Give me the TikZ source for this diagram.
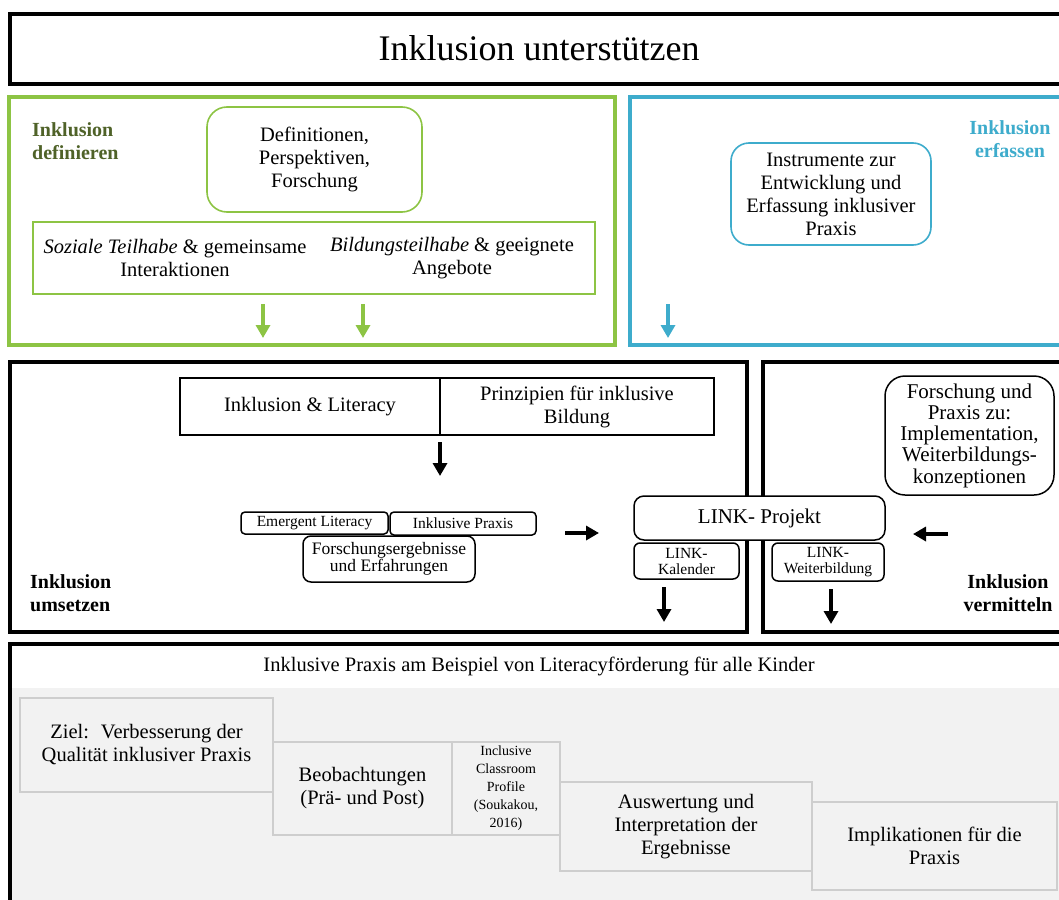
\documentclass[tikz,border=0pt]{standalone}
\usepackage{fontspec}
\setmainfont{Liberation Serif}
\usetikzlibrary{arrows.meta}
\definecolor{lgreen}{RGB}{141,196,68}
\definecolor{dgreen}{RGB}{79,98,40}
\definecolor{aqua}{RGB}{62,172,204}
\definecolor{stepgray}{RGB}{242,242,242}
\definecolor{stepline}{RGB}{206,206,206}
\begin{document}
\begin{tikzpicture}[x=1pt,y=-1pt,
  frame/.style={line width=4pt},
  body/.style={font=\fontsize{20.5}{23}\selectfont, align=center, inner sep=0pt},
  smalltext/.style={font=\fontsize{15.5}{16}\selectfont, align=center, inner sep=0pt},
  lab/.style={font=\bfseries\fontsize{20}{23}\selectfont, inner sep=0pt},
  gbox/.style={draw=lgreen, line width=1.6pt, body},
  abox/.style={draw=aqua, line width=1.6pt, body, rounded corners=18pt},
  kbox/.style={draw=black, line width=1.5pt, body},
  rbox/.style={draw=black, line width=1.5pt, fill=white, rounded corners=#1},
  stepbox/.style={draw=stepline, fill=stepgray, line width=1.4pt, body},
  barrow/.style={line width=4.5pt, -{Triangle[width=14pt,length=13pt]}},
  garrow/.style={barrow, lgreen},
  aarrow/.style={barrow, aqua}
]
\useasboundingbox (0,0) rectangle (1059,899);
\clip (0,0) rectangle (1059,899);
\fill[white] (0,0) rectangle (1059,899);

% ---------- title ----------
\draw[frame] (10,14) rectangle (1075,84);
\node[font=\fontsize{36}{40}\selectfont, inner sep=0pt] (title) at (539,48) {Inklusion unterstützen};

% ---------- Inklusion definieren ----------
\draw[frame, lgreen] (9,97) rectangle (615,345);
\node[lab, dgreen, align=left, anchor=west] (deflab) at (32,141.5) {Inklusion\\definieren};
\node[gbox, rounded corners=20pt, minimum width=215pt, minimum height=105pt] (defs) at (314.5,159.5)
  {Definitionen,\\Perspektiven,\\Forschung};
\node[gbox, minimum width=562pt, minimum height=72pt] (teil) at (314,258) {};
\node[body] (sozial) at (175,258) {\textit{Soziale Teilhabe} \& gemeinsame\\Interaktionen};
\node[body] (bildung) at (452,258) {\textit{Bildungsteilhabe} \& geeignete\\Angebote};
\coordinate (g1s) at (263,304); \coordinate (g1e) at (263,338);
\coordinate (g2s) at (363,304); \coordinate (g2e) at (363,338);
\draw[garrow] (g1s) -- (g1e);
\draw[garrow] (g2s) -- (g2e);

% ---------- Inklusion erfassen ----------
\draw[frame, aqua] (630,97) rectangle (1075,345);
\node[lab, aqua, align=center] (erflab) at (1010,139.5) {Inklusion\\erfassen};
\node[abox, minimum width=200pt, minimum height=102pt] (instr) at (831,194)
  {Instrumente zur\\Entwicklung und\\Erfassung inklusiver\\Praxis};
\coordinate (a1s) at (668,304); \coordinate (a1e) at (668,338);
\draw[aarrow] (a1s) -- (a1e);

% ---------- Inklusion umsetzen / vermitteln ----------
\draw[frame] (10,362) rectangle (747,632);
\draw[frame] (763,362) rectangle (1075,632);
\node[lab, align=left, anchor=west] (umslab) at (30,593.5) {Inklusion\\umsetzen};
\node[lab, align=center] (vermlab) at (1008,593.5) {Inklusion\\vermitteln};

\node[kbox, minimum width=260pt, minimum height=57pt] (litbox) at (310,406.5) {Inklusion \& Literacy};
\node[kbox, minimum width=274pt, minimum height=57pt] (prinz) at (577,406.5) {Prinzipien für inklusive\\Bildung};
\coordinate (l1s) at (440,442); \coordinate (l1e) at (440,476);
\draw[barrow] (l1s) -- (l1e);

\node[rbox=4pt, smalltext, minimum width=147pt, minimum height=22pt] (emerg) at (314.5,523) {Emergent Literacy};
\node[rbox=4pt, smalltext, minimum width=146pt, minimum height=23pt] (inkpr) at (463,523.5) {Inklusive Praxis};
\node[rbox=8pt, align=center, inner sep=0pt, font=\fontsize{17.5}{16.5}\selectfont,
      minimum width=172pt, minimum height=46pt] (forsch) at (389,559) {Forschungsergebnisse\\und Erfahrungen};
\coordinate (r1s) at (565,533); \coordinate (r1e) at (599,533);
\draw[barrow] (r1s) -- (r1e);

\node[rbox=10pt, body, font=\fontsize{21}{23}\selectfont, minimum width=251pt, minimum height=44pt] (link) at (759.5,518) {LINK- Projekt};
\node[rbox=6pt, smalltext, minimum width=105pt, minimum height=36pt] (kal) at (686.5,561) {LINK-\\Kalender};
\node[rbox=6pt, smalltext, minimum width=112pt, minimum height=38pt] (weit) at (828,562) {LINK-\\Weiterbildung};
\coordinate (k1s) at (664,587); \coordinate (k1e) at (664,622);
\coordinate (w1s) at (831,589); \coordinate (w1e) at (831,624);
\draw[barrow] (k1s) -- (k1e);
\draw[barrow] (w1s) -- (w1e);

\node[rbox=20pt, align=center, inner sep=0pt, font=\fontsize{21}{21.25}\selectfont,
      minimum width=169pt, minimum height=119pt] (fpx) at (969.5,435.5)
  {Forschung und\\Praxis zu:\\Implementation,\\Weiterbildungs-\\konzeptionen};
\coordinate (f1s) at (948,534); \coordinate (f1e) at (913,534);
\draw[barrow] (f1s) -- (f1e);

% ---------- Inklusive Praxis ----------
\fill[white] (12,646) rectangle (1075,688);
\fill[stepgray] (12,688) rectangle (1075,910);
\draw[frame] (10,910) |- (1075,644);
\node[body] (praxhead) at (539,666) {Inklusive Praxis am Beispiel von Literacyförderung für alle Kinder};

\node[stepbox, minimum width=253pt, minimum height=94pt] (ziel) at (146.5,745)
  {Ziel:~ Verbesserung der\\Qualität inklusiver Praxis};
\node[stepbox, minimum width=179pt, minimum height=93pt] (beob) at (362.5,788.5)
  {Beobachtungen\\(Prä- und Post)};
\node[stepbox, font=\fontsize{14}{18}\selectfont, minimum width=108pt, minimum height=93pt] (icp) at (506,788.5)
  {Inclusive\\Classroom\\Profile\\(Soukakou,\\2016)};
\node[stepbox, minimum width=252pt, minimum height=89pt] (ausw) at (686,826.5)
  {Auswertung und\\Interpretation der\\Ergebnisse};
\node[stepbox, minimum width=245pt, minimum height=88pt] (impl) at (934.5,846)
  {Implikationen für die\\Praxis};
\end{tikzpicture}
\end{document}
